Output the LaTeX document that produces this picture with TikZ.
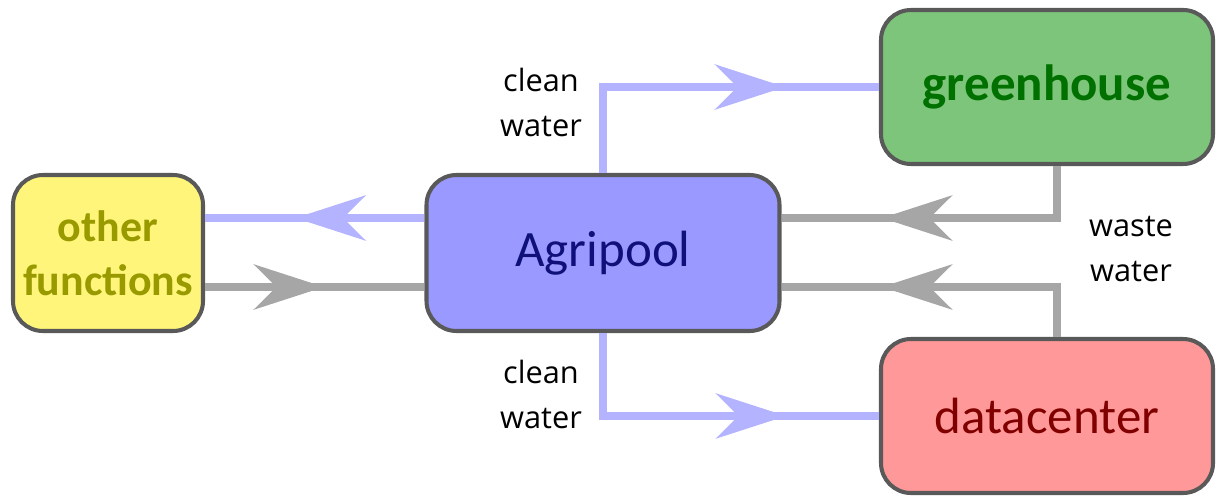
\documentclass[tikz,border=0pt]{standalone}
\usepackage{fontspec}
\setmainfont{Carlito}
\newfontfamily\notefont{Open Sans}
\usetikzlibrary{arrows.meta,decorations.markings}

\definecolor{waterblue}{HTML}{B3B3FF}
\definecolor{wastegray}{HTML}{A6A6A6}
\definecolor{boxline}{HTML}{595959}
\definecolor{agrifill}{HTML}{9999FF}
\definecolor{agritext}{HTML}{10107A}
\definecolor{otherfill}{HTML}{FFF57A}
\definecolor{othertext}{HTML}{999900}
\definecolor{greenfill}{HTML}{7DC57A}
\definecolor{greentext}{HTML}{007000}
\definecolor{datafill}{HTML}{FF9999}
\definecolor{datatext}{HTML}{800000}

\tikzset{
  block/.style={draw=boxline, line width=2.3pt, rounded corners=0.6cm,
    align=center, inner sep=0pt, font=\fontsize{29}{34}\selectfont},
  note/.style={align=center, font=\notefont\fontsize{17.5}{25.6}\selectfont},
  flow/.style={line width=0.16cm, postaction={decorate},
    decoration={markings, mark=at position #1 with
      {\arrow{Stealth[length=1.4cm,width=0.9cm,inset=0.45cm]}}}},
  clean/.style={flow=#1, draw=waterblue},
  waste/.style={flow=#1, draw=wastegray},
}

\begin{document}
\begin{tikzpicture}
  \useasboundingbox (0,0) rectangle (24.34,9.98);

  % the four units
  \node[block, fill=agrifill, text=agritext, minimum width=7.06cm, minimum height=3.12cm]
    (agri) at (12.06,4.92) {Agripool};
  \node[block, fill=otherfill, text=othertext, minimum width=3.8cm, minimum height=3.12cm,
    font=\bfseries\fontsize{25}{30.7}\selectfont]
    (other) at (2.16,4.92) {other\\functions};
  \node[block, fill=greenfill, text=greentext, minimum width=6.64cm, minimum height=3.08cm,
    font=\bfseries\fontsize{29}{34}\selectfont]
    (green) at (20.94,8.24) {greenhouse};
  \node[block, fill=datafill, text=datatext, minimum width=6.64cm, minimum height=3.08cm]
    (data) at (20.94,1.66) {datacenter};

  % water flows
  \draw[clean=2.58cm] ([yshift=7mm]agri.west) -- ([yshift=7mm]other.east);
  \draw[waste=2.38cm] ([yshift=-6.8mm]other.east) -- ([yshift=-6.8mm]agri.west);
  \draw[clean=5.36cm] (agri.north) |- (green.west);
  \draw[clean=5.32cm] (agri.south) |- (data.west);
  \draw[waste=4.54cm] ([xshift=2mm]green.south) |- ([yshift=7mm]agri.east);
  \draw[waste=4.5cm] ([xshift=2mm]data.north) |- ([yshift=-6.8mm]agri.east);

  % labels
  \node[note] (cleanup) at (10.82,7.94) {clean\\water};
  \node[note] (cleandown) at (10.82,2.1) {clean\\water};
  \node[note] (wastenote) at (22.62,5.0) {waste\\water};
\end{tikzpicture}
\end{document}
